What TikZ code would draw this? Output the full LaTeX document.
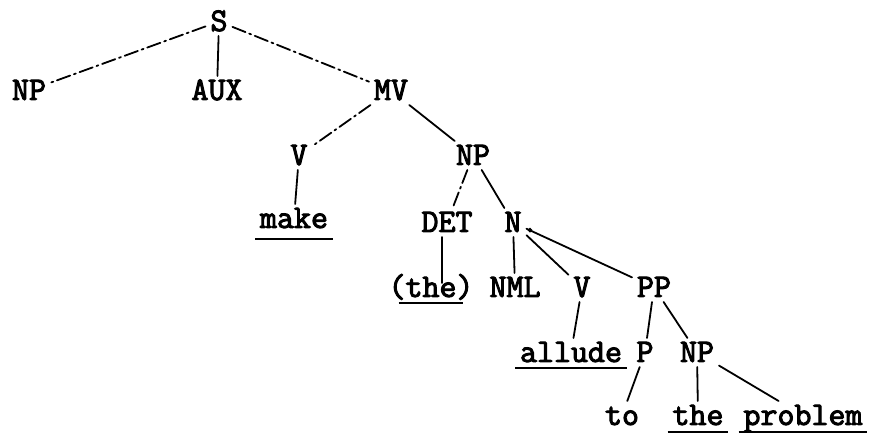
\documentclass[tikz,border=0pt]{standalone}
\usepackage{fontspec}
\setmonofont{Latin Modern Mono}[AutoFakeBold=3]
\begin{document}
\begin{tikzpicture}[x=1pt,y=1pt,
  lbl/.style={font=\ttfamily\bfseries\fontsize{33}{35}\selectfont,
    anchor=base, inner sep=0pt, outer sep=5pt,
    text height=19pt, text depth=0pt},
  branch/.style={line width=1.8pt, line cap=round},
  broken/.style={branch, dash pattern=on 14pt off 4pt on 2pt off 4pt},
  uline/.style={line width=2.8pt}]
\useasboundingbox (0,0) rectangle (876,433);

% categories and words, placed on their baselines
\node[lbl] (S)    at (219,402) {S};
\node[lbl] (NPa)  at (29,333)  {NP};
\node[lbl] (AUX)  at (217,333) {AUX};
\node[lbl] (MV)   at (391,333) {MV};
\node[lbl] (Va)   at (299,268) {V};
\node[lbl] (NPb)  at (473,268) {NP};
\node[lbl] (make) at (294,205) {make};
\node[lbl] (DET)  at (447,201) {DET};
\node[lbl] (N)    at (513,201) {N\rlap{.}};
\node[lbl] (the1) at (431,136) {(the)};
\node[lbl] (NML)  at (515,136) {NML};
\node[lbl] (Vb)   at (582,136) {V};
\node[lbl] (PP)   at (654,136) {PP};
\node[lbl] (allude) at (571,71) {allude};
\node[lbl] (P)    at (645,71)  {P};
\node[lbl] (NPc)  at (697,71)  {NP};
\node[lbl] (to)   at (622,8)   {to};
\node[lbl] (the2) at (698,8)   {the};
\node[lbl] (problem) at (803,8) {problem};

% underlined words
\draw[uline] ([yshift=-11pt]make.base west) -- ([yshift=-11pt]make.base east);
\draw[uline] ([xshift=15pt,yshift=-6pt]the1.base west) -- ([xshift=-15pt,yshift=-6pt]the1.base east);
\draw[uline] ([yshift=-6pt]allude.base west) -- ([yshift=-6pt]allude.base east);
\draw[uline] ([yshift=-7pt]the2.base west) -- ([yshift=-7pt]the2.base east);
\draw[uline] ([yshift=-7pt]problem.base west) -- ([yshift=-7pt]problem.base east);

% branches
\draw[broken] (S) -- (NPa);
\draw[branch] (S) -- (AUX);
\draw[broken] (S) -- (MV);
\draw[broken] (MV) -- (Va);
\draw[branch] (MV) -- (NPb);
\draw[branch] (Va) -- (make);
\draw[broken] (NPb) -- (DET);
\draw[branch] (NPb) -- (N);
\draw[branch] ([xshift=-5pt]DET.south) -- ([xshift=-5pt,yshift=-10pt]DET.south |- the1.north);
\draw[branch] (N) -- (NML);
\draw[branch] (N) -- (Vb);
\draw[branch] (N) -- (PP);
\draw[branch] (Vb) -- (allude);
\draw[branch] (PP) -- (P);
\draw[branch] (PP) -- (NPc);
\draw[branch] (P) -- (to);
\draw[branch] (NPc) -- (the2);
\draw[branch] (NPc) -- (problem);
\end{tikzpicture}
\end{document}
